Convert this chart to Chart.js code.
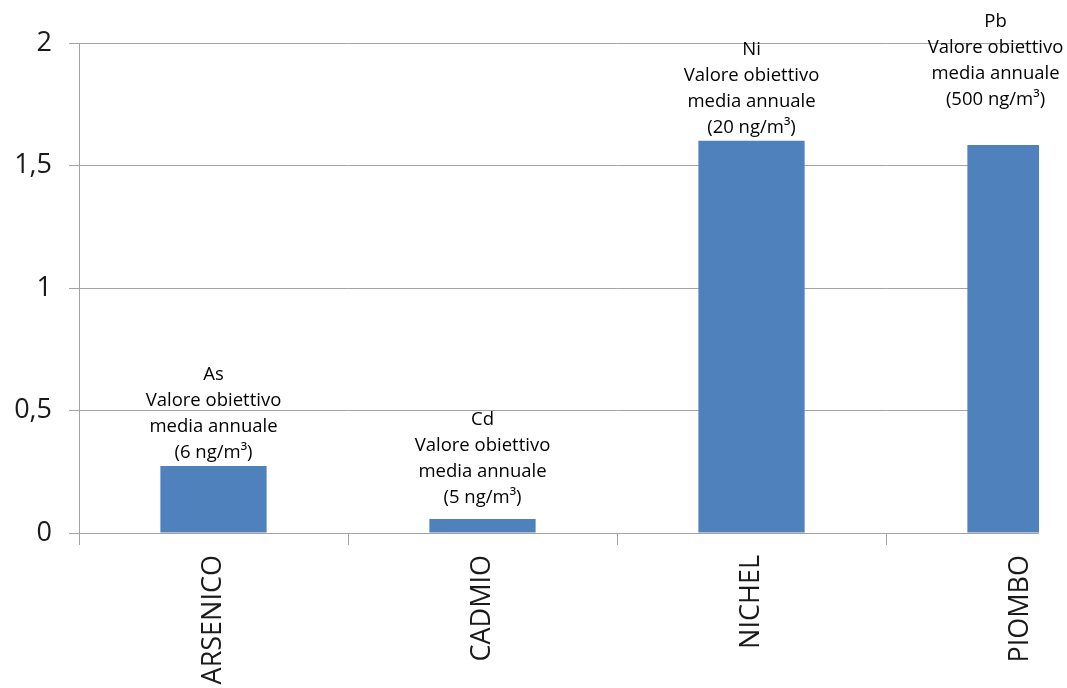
<!DOCTYPE html>
<html>
<head>
<meta charset="utf-8">
<script src="https://cdn.jsdelivr.net/npm/chart.js@4.4.1/dist/chart.umd.min.js"></script>
<style>
  html, body { margin: 0; padding: 0; background: #fff; }
  #wrap { width: 1067px; height: 688px; overflow: hidden; position: relative; }
  canvas { display: block; }
</style>
</head>
<body>
<div id="wrap"><canvas id="c" width="1160" height="688"></canvas></div>
<script>
const categories = ['ARSENICO', 'CADMIO', 'NICHEL', 'PIOMBO'];
const values = [0.273, 0.057, 1.601, 1.584];
const barLabels = [
  ['As', 'Valore obiettivo', 'media annuale', '(6 ng/m³)'],
  ['Cd', 'Valore obiettivo', 'media annuale', '(5 ng/m³)'],
  ['Ni', 'Valore obiettivo', 'media annuale', '(20 ng/m³)'],
  ['Pb', 'Valore obiettivo', 'media annuale', '(500 ng/m³)']
];
const yTickValues = [0, 0.5, 1, 1.5, 2];

const GRID = '#a3a3a3';
const labelGap = [13, 21, 13, 45];
const labelShift = [0, 0, 0, -25];
const lineHeight = 26;
const clipX = 1039;

const rightClip = {
  id: 'rightClip',
  afterDatasetsDraw(chart) {
    const ctx = chart.ctx;
    ctx.save();
    ctx.fillStyle = '#ffffff';
    ctx.fillRect(clipX, 0, chart.width - clipX, chart.chartArea.bottom + 2);
    ctx.restore();
  }
};

const barText = {
  id: 'barText',
  afterDraw(chart) {
    const ctx = chart.ctx;
    const meta = chart.getDatasetMeta(0);
    ctx.save();
    ctx.font = '18.5px "Open Sans"';
    ctx.fillStyle = '#000000';
    ctx.textAlign = 'center';
    ctx.textBaseline = 'middle';
    meta.data.forEach((bar, i) => {
      const lines = barLabels[i];
      let y = bar.y - labelGap[i];
      for (let k = lines.length - 1; k >= 0; k--) {
        ctx.fillText(lines[k], bar.x + labelShift[i], y);
        y -= lineHeight;
      }
    });
    ctx.restore();
  }
};

new Chart(document.getElementById('c'), {
  type: 'bar',
  data: {
    labels: categories,
    datasets: [{
      data: values,
      backgroundColor: '#4f81bd',
      borderWidth: 0,
      categoryPercentage: 1,
      barPercentage: 0.395
    }]
  },
  options: {
    responsive: false,
    animation: false,
    events: [],
    layout: { padding: { top: 43, right: 5, left: 0, bottom: 0 } },
    plugins: { legend: { display: false }, tooltip: { enabled: false } },
    scales: {
      x: {
        grid: { display: true, drawOnChartArea: false, drawTicks: true, tickLength: 12, color: GRID, offset: true },
        border: { display: true, color: GRID, width: 1 },
        ticks: {
          minRotation: 90, maxRotation: 90, autoSkip: false, padding: 10,
          color: '#1a1a1a', font: { family: '"Open Sans"', size: 27 }
        },
        afterFit(scale) { scale.height = 155; }
      },
      y: {
        min: 0, max: 2,
        afterBuildTicks(scale) { scale.ticks = yTickValues.map(v => ({ value: v })); },
        grid: { color: GRID, tickLength: 10, drawTicks: true },
        border: { display: true, color: GRID, width: 1 },
        ticks: {
          padding: 17, color: '#1a1a1a', font: { family: '"Open Sans"', size: 27 },
          callback: v => String(v).replace('.', ',')
        },
        afterFit(scale) { scale.width = 79; }
      }
    }
  },
  plugins: [rightClip, barText]
});
</script>
</body>
</html>
